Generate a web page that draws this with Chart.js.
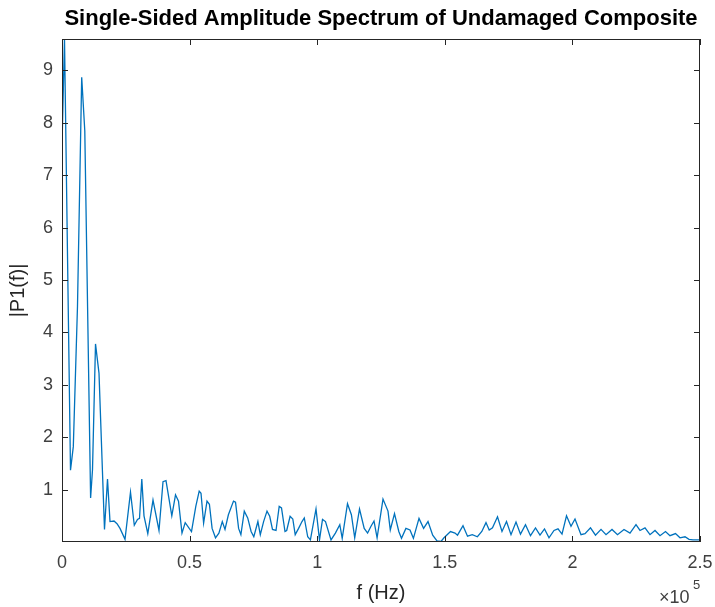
<!DOCTYPE html>
<html>
<head>
<meta charset="utf-8">
<script src="https://cdn.jsdelivr.net/npm/chart.js@4.4.1/dist/chart.umd.min.js"></script>
<style>
  body { margin: 0; background: #fff; }
  canvas { display: block; }
</style>
</head>
<body>
<canvas id="myChart" width="715" height="607" style="width:715px;height:607px"></canvas>
<script>
// frecuencias (Hz) y amplitud |P1(f)|
const freqHz = [
  0, 980, 3330, 4430, 6070, 7720, 8930, 11210, 11950, 13130,
  14500, 16650, 17830, 18810, 20380, 21550, 22730, 24690, 26840, 28330,
  29580, 30370, 31270, 32130, 33620, 35660, 38010, 39580, 40750, 43030,
  44480, 45650, 47020, 48280, 50740, 52430, 53760, 54470, 55490, 56820,
  57760, 58820, 60150, 61480, 62810, 63870, 65200, 67200, 67990, 69200,
  70100, 71430, 72770, 74100, 75160, 76760, 77700, 79000, 80330, 81390,
  82480, 83860, 85110, 86010, 87380, 88050, 89380, 90440, 91380, 92710,
  94040, 94940, 96280, 97340, 99530, 100900, 102080, 103250, 105410, 107130,
  108860, 109800, 111870, 113400, 114700, 116580, 118420, 119750, 121080, 122260,
  123470, 125780, 127740, 128640, 130290, 131980, 133030, 134760, 136360, 137700,
  139890, 141690, 143420, 145260, 146940, 148510, 149690, 152230, 154000, 154980,
  157130, 158900, 160780, 162770, 164500, 166140, 167400, 168690, 170650, 172410,
  174180, 175940, 177900, 179660, 181620, 183580, 185540, 187300, 189070, 190830,
  192790, 194360, 195930, 197690, 199450, 201020, 203370, 204940, 207090, 209050,
  211210, 213170, 215520, 217670, 220220, 222570, 224920, 226490, 228450, 230410,
  232370, 234330, 236480, 238240, 240400, 242160, 244120, 245690, 247260, 250000
];
const amplitud = [
  7.55, 9.6, 1.37, 1.82, 4.5, 8.87, 7.85, 0.84, 1.38, 3.78,
  3.22, 0.24, 1.2, 0.39, 0.40, 0.35, 0.26, 0.05, 0.95, 0.32,
  0.43, 0.45, 1.2, 0.5, 0.16, 0.8, 0.22, 1.15, 1.17, 0.5,
  0.9, 0.78, 0.17, 0.37, 0.2, 0.68, 0.97, 0.93, 0.36, 0.78,
  0.72, 0.26, 0.08, 0.17, 0.39, 0.24, 0.52, 0.78, 0.76, 0.26,
  0.14, 0.59, 0.46, 0.2, 0.1, 0.39, 0.14, 0.39, 0.59, 0.49,
  0.24, 0.22, 0.68, 0.65, 0.2, 0.22, 0.49, 0.44, 0.14, 0.26,
  0.39, 0.46, 0.1, 0.04, 0.63, 0.04, 0.43, 0.39, 0.04, 0.17,
  0.33, 0.07, 0.73, 0.52, 0.08, 0.63, 0.26, 0.17, 0.3, 0.4,
  0.08, 0.82, 0.59, 0.23, 0.54, 0.2, 0.07, 0.26, 0.23, 0.07,
  0.45, 0.26, 0.39, 0.13, 0.02, 0.01, 0.08, 0.2, 0.17, 0.13,
  0.31, 0.11, 0.14, 0.1, 0.2, 0.37, 0.23, 0.27, 0.48, 0.2,
  0.39, 0.14, 0.38, 0.15, 0.33, 0.12, 0.27, 0.13, 0.25, 0.08,
  0.22, 0.25, 0.15, 0.5, 0.3, 0.44, 0.14, 0.16, 0.27, 0.13,
  0.24, 0.14, 0.24, 0.14, 0.24, 0.17, 0.33, 0.22, 0.27, 0.14,
  0.22, 0.12, 0.2, 0.12, 0.16, 0.08, 0.1, 0.05, 0.04, 0.04
];
const xTicks = [0, 50000, 100000, 150000, 200000, 250000];
const yTicks = [1, 2, 3, 4, 5, 6, 7, 8, 9];

const titulo = 'Single-Sided Amplitude Spectrum of Undamaged Composite';
const ejeColor = '#262626';

// titulo, caja del eje con marcas hacia dentro y el x10^5
const cajaPlugin = {
  id: 'caja',
  afterDraw(chart) {
    const ctx = chart.ctx;
    const a = chart.chartArea;
    const sx = chart.scales.x, sy = chart.scales.y;
    ctx.save();
    ctx.strokeStyle = ejeColor;
    ctx.lineWidth = 1;
    ctx.strokeRect(a.left + 0.5, a.top + 0.5, a.right - a.left - 1, a.bottom - a.top - 1);
    ctx.beginPath();
    xTicks.forEach(v => {
      const px = Math.round(sx.getPixelForValue(v)) + 0.5;
      ctx.moveTo(px, a.bottom); ctx.lineTo(px, a.bottom - 6);
      ctx.moveTo(px, a.top); ctx.lineTo(px, a.top + 6);
    });
    yTicks.forEach(v => {
      const py = Math.round(sy.getPixelForValue(v)) + 0.5;
      ctx.moveTo(a.left, py); ctx.lineTo(a.left + 6, py);
      ctx.moveTo(a.right, py); ctx.lineTo(a.right - 6, py);
    });
    ctx.stroke();

    ctx.fillStyle = '#000';
    ctx.font = 'bold 22px "Liberation Sans", Arial, sans-serif';
    ctx.textAlign = 'center';
    ctx.textBaseline = 'middle';
    ctx.fillText(titulo, (a.left + a.right) / 2, 19);

    ctx.fillStyle = '#404040';
    ctx.textAlign = 'left';
    ctx.textBaseline = 'alphabetic';
    ctx.font = '18px "Liberation Sans", Arial, sans-serif';
    ctx.fillText('\u00d710', 659, 603);
    ctx.font = '13px "Liberation Sans", Arial, sans-serif';
    ctx.fillText('5', 693, 589);
    ctx.restore();
  }
};

const ctx = document.getElementById('myChart').getContext('2d');
new Chart(ctx, {
  type: 'line',
  data: {
    datasets: [{
      data: freqHz.map((f, i) => ({x: f, y: amplitud[i]})),
      borderColor: '#0072BD',
      borderWidth: 1.3,
      pointRadius: 0,
      tension: 0,
      fill: false
    }]
  },
  options: {
    responsive: false,
    animation: false,
    layout: {padding: {top: 39, right: 15, left: 0, bottom: 0}},
    plugins: {
      legend: {display: false},
      tooltip: {enabled: false},
      title: {display: false}
    },
    scales: {
      x: {
        type: 'linear',
        min: 0,
        max: 250000,
        afterFit: s => { s.height = 65; s.paddingLeft = 0; s.paddingRight = 0; },
        afterBuildTicks: s => { s.ticks = xTicks.map(v => ({value: v})); },
        grid: {display: false, drawTicks: false},
        border: {display: false},
        ticks: {
          padding: 10,
          color: '#404040',
          font: {family: '"Liberation Sans", Arial, sans-serif', size: 18},
          maxRotation: 0,
          callback: v => String(v / 100000)
        },
        title: {
          display: true,
          text: 'f (Hz)',
          color: '#262626',
          font: {family: '"Liberation Sans", Arial, sans-serif', size: 20},
          padding: {top: 0, bottom: 2}
        }
      },
      y: {
        min: 0,
        max: 9.6,
        afterFit: s => { s.width = 62; s.paddingTop = 0; s.paddingBottom = 0; },
        afterBuildTicks: s => { s.ticks = yTicks.map(v => ({value: v})); },
        grid: {display: false, drawTicks: false},
        border: {display: false},
        ticks: {
          padding: 9,
          color: '#404040',
          font: {family: '"Liberation Sans", Arial, sans-serif', size: 18}
        },
        title: {
          display: true,
          text: '|P1(f)|',
          color: '#262626',
          font: {family: '"Liberation Sans", Arial, sans-serif', size: 20},
          padding: {top: 6, bottom: 0}
        }
      }
    }
  },
  plugins: [cajaPlugin]
});
</script>
</body>
</html>
